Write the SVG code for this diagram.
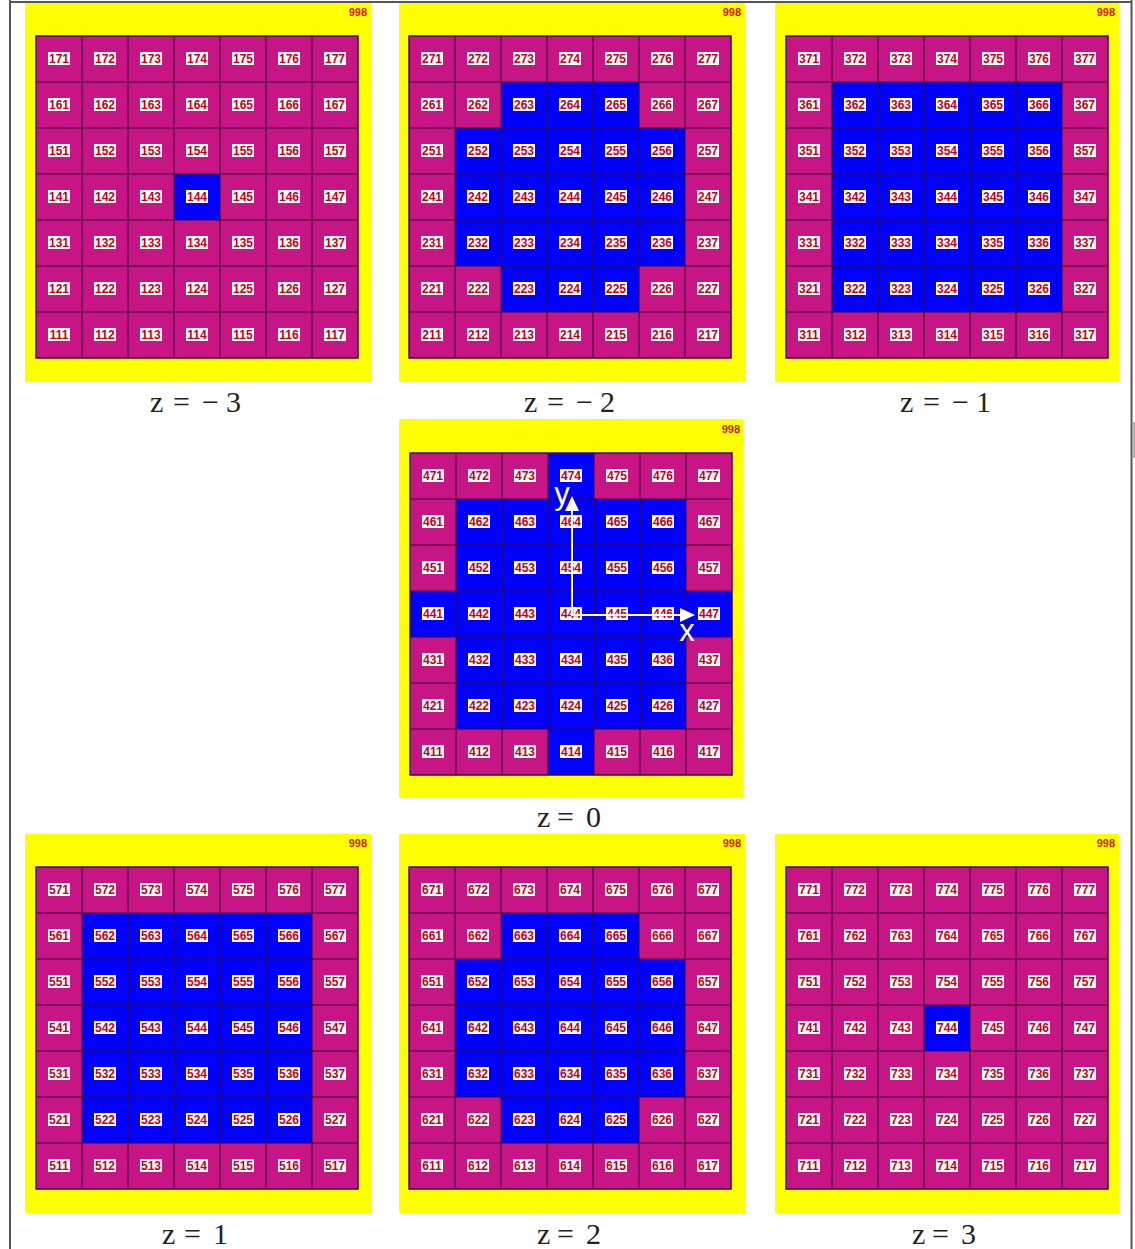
<svg xmlns="http://www.w3.org/2000/svg" xmlns:xlink="http://www.w3.org/1999/xlink" width="1135" height="1249" viewBox="0 0 1135 1249">
<style>
.bg{fill:#ffff00}
.mag{fill:#c71585}
.blue{fill:#0000ff}
.frame{fill:none;stroke:#3b0b2e;stroke-width:1.5}
.tag{font-family:"Liberation Sans",Arial,sans-serif;font-size:11px;font-weight:bold;fill:#d01818;text-anchor:end}
.lab text{font-family:"Liberation Sans",Arial,sans-serif;font-size:12px;font-weight:bold;fill:#c0001c;text-anchor:middle}
.cap{font-family:"Liberation Serif","Times New Roman",serif;font-size:30px;fill:#222}
.ax{stroke:#fff;stroke-width:2;fill:none}
.axh{fill:#fff}
.axl{font-family:"Liberation Sans",Arial,sans-serif;font-size:31px;fill:#fff;text-anchor:middle}
</style>
<defs>
<pattern id="lbl" width="46" height="46" patternUnits="userSpaceOnUse"><rect x="12" y="16" width="22" height="13" fill="#ffffff"/></pattern>
<path id="gl" d="M0 46H322M0 92H322M0 138H322M0 184H322M0 230H322M0 276H322M46 0V322M92 0V322M138 0V322M184 0V322M230 0V322M276 0V322" fill="none" stroke="#3b0b2e" stroke-width="1"/>
</defs>
<rect width="1135" height="1249" fill="#ffffff"/>
<path d="M10 0V1249M10 2H1132M1131.5 0V1249" fill="none" stroke="#555" stroke-width="2"/>
<line x1="1134" y1="422" x2="1134" y2="458" stroke="#999" stroke-width="1.5"/>

<g id="panel-z-3">
<rect class="bg" x="25" y="3" width="346" height="379"/>
<text class="tag" x="367" y="16">998</text>
<g transform="translate(36,36)">
<rect class="mag" width="322" height="322"/>
<rect class="blue" x="138" y="138" width="46" height="46"/>
<use xlink:href="#gl"/>
<rect width="322" height="322" fill="url(#lbl)"/>
<rect class="frame" width="322" height="322"/>
<g class="lab">
<text x="23" y="27">171</text><text x="69" y="27">172</text><text x="115" y="27">173</text><text x="161" y="27">174</text><text x="207" y="27">175</text><text x="253" y="27">176</text><text x="299" y="27">177</text>
<text x="23" y="73">161</text><text x="69" y="73">162</text><text x="115" y="73">163</text><text x="161" y="73">164</text><text x="207" y="73">165</text><text x="253" y="73">166</text><text x="299" y="73">167</text>
<text x="23" y="119">151</text><text x="69" y="119">152</text><text x="115" y="119">153</text><text x="161" y="119">154</text><text x="207" y="119">155</text><text x="253" y="119">156</text><text x="299" y="119">157</text>
<text x="23" y="165">141</text><text x="69" y="165">142</text><text x="115" y="165">143</text><text x="161" y="165">144</text><text x="207" y="165">145</text><text x="253" y="165">146</text><text x="299" y="165">147</text>
<text x="23" y="211">131</text><text x="69" y="211">132</text><text x="115" y="211">133</text><text x="161" y="211">134</text><text x="207" y="211">135</text><text x="253" y="211">136</text><text x="299" y="211">137</text>
<text x="23" y="257">121</text><text x="69" y="257">122</text><text x="115" y="257">123</text><text x="161" y="257">124</text><text x="207" y="257">125</text><text x="253" y="257">126</text><text x="299" y="257">127</text>
<text x="23" y="303">111</text><text x="69" y="303">112</text><text x="115" y="303">113</text><text x="161" y="303">114</text><text x="207" y="303">115</text><text x="253" y="303">116</text><text x="299" y="303">117</text>
</g>
</g>
<text class="cap" y="412"><tspan x="150">z</tspan><tspan x="173">=</tspan><tspan x="202">−</tspan><tspan x="226">3</tspan></text>
</g>

<g id="panel-z-2">
<rect class="bg" x="399" y="3" width="346" height="379"/>
<text class="tag" x="741" y="16">998</text>
<g transform="translate(409,36)">
<rect class="mag" width="322" height="322"/>
<rect class="blue" x="46" y="92" width="230" height="138"/>
<rect class="blue" x="92" y="46" width="138" height="46"/>
<rect class="blue" x="92" y="230" width="138" height="46"/>
<use xlink:href="#gl"/>
<rect width="322" height="322" fill="url(#lbl)"/>
<rect class="frame" width="322" height="322"/>
<g class="lab">
<text x="23" y="27">271</text><text x="69" y="27">272</text><text x="115" y="27">273</text><text x="161" y="27">274</text><text x="207" y="27">275</text><text x="253" y="27">276</text><text x="299" y="27">277</text>
<text x="23" y="73">261</text><text x="69" y="73">262</text><text x="115" y="73">263</text><text x="161" y="73">264</text><text x="207" y="73">265</text><text x="253" y="73">266</text><text x="299" y="73">267</text>
<text x="23" y="119">251</text><text x="69" y="119">252</text><text x="115" y="119">253</text><text x="161" y="119">254</text><text x="207" y="119">255</text><text x="253" y="119">256</text><text x="299" y="119">257</text>
<text x="23" y="165">241</text><text x="69" y="165">242</text><text x="115" y="165">243</text><text x="161" y="165">244</text><text x="207" y="165">245</text><text x="253" y="165">246</text><text x="299" y="165">247</text>
<text x="23" y="211">231</text><text x="69" y="211">232</text><text x="115" y="211">233</text><text x="161" y="211">234</text><text x="207" y="211">235</text><text x="253" y="211">236</text><text x="299" y="211">237</text>
<text x="23" y="257">221</text><text x="69" y="257">222</text><text x="115" y="257">223</text><text x="161" y="257">224</text><text x="207" y="257">225</text><text x="253" y="257">226</text><text x="299" y="257">227</text>
<text x="23" y="303">211</text><text x="69" y="303">212</text><text x="115" y="303">213</text><text x="161" y="303">214</text><text x="207" y="303">215</text><text x="253" y="303">216</text><text x="299" y="303">217</text>
</g>
</g>
<text class="cap" y="412"><tspan x="524">z</tspan><tspan x="547">=</tspan><tspan x="576">−</tspan><tspan x="600">2</tspan></text>
</g>

<g id="panel-z-1">
<rect class="bg" x="775" y="3" width="344" height="379"/>
<text class="tag" x="1115" y="16">998</text>
<g transform="translate(786,36)">
<rect class="mag" width="322" height="322"/>
<rect class="blue" x="46" y="46" width="230" height="230"/>
<use xlink:href="#gl"/>
<rect width="322" height="322" fill="url(#lbl)"/>
<rect class="frame" width="322" height="322"/>
<g class="lab">
<text x="23" y="27">371</text><text x="69" y="27">372</text><text x="115" y="27">373</text><text x="161" y="27">374</text><text x="207" y="27">375</text><text x="253" y="27">376</text><text x="299" y="27">377</text>
<text x="23" y="73">361</text><text x="69" y="73">362</text><text x="115" y="73">363</text><text x="161" y="73">364</text><text x="207" y="73">365</text><text x="253" y="73">366</text><text x="299" y="73">367</text>
<text x="23" y="119">351</text><text x="69" y="119">352</text><text x="115" y="119">353</text><text x="161" y="119">354</text><text x="207" y="119">355</text><text x="253" y="119">356</text><text x="299" y="119">357</text>
<text x="23" y="165">341</text><text x="69" y="165">342</text><text x="115" y="165">343</text><text x="161" y="165">344</text><text x="207" y="165">345</text><text x="253" y="165">346</text><text x="299" y="165">347</text>
<text x="23" y="211">331</text><text x="69" y="211">332</text><text x="115" y="211">333</text><text x="161" y="211">334</text><text x="207" y="211">335</text><text x="253" y="211">336</text><text x="299" y="211">337</text>
<text x="23" y="257">321</text><text x="69" y="257">322</text><text x="115" y="257">323</text><text x="161" y="257">324</text><text x="207" y="257">325</text><text x="253" y="257">326</text><text x="299" y="257">327</text>
<text x="23" y="303">311</text><text x="69" y="303">312</text><text x="115" y="303">313</text><text x="161" y="303">314</text><text x="207" y="303">315</text><text x="253" y="303">316</text><text x="299" y="303">317</text>
</g>
</g>
<text class="cap" y="412"><tspan x="900">z</tspan><tspan x="923">=</tspan><tspan x="952">−</tspan><tspan x="976">1</tspan></text>
</g>

<g id="panel-z0">
<rect class="bg" x="399" y="419" width="344" height="379"/>
<text class="tag" x="740" y="433">998</text>
<g transform="translate(410,453)">
<rect class="mag" width="322" height="322"/>
<rect class="blue" x="46" y="46" width="230" height="230"/>
<rect class="blue" x="0" y="138" width="322" height="46"/>
<rect class="blue" x="138" y="0" width="46" height="322"/>
<use xlink:href="#gl"/>
<rect width="322" height="322" fill="url(#lbl)"/>
<rect class="frame" width="322" height="322"/>
<g class="lab">
<text x="23" y="27">471</text><text x="69" y="27">472</text><text x="115" y="27">473</text><text x="161" y="27">474</text><text x="207" y="27">475</text><text x="253" y="27">476</text><text x="299" y="27">477</text>
<text x="23" y="73">461</text><text x="69" y="73">462</text><text x="115" y="73">463</text><text x="161" y="73">464</text><text x="207" y="73">465</text><text x="253" y="73">466</text><text x="299" y="73">467</text>
<text x="23" y="119">451</text><text x="69" y="119">452</text><text x="115" y="119">453</text><text x="161" y="119">454</text><text x="207" y="119">455</text><text x="253" y="119">456</text><text x="299" y="119">457</text>
<text x="23" y="165">441</text><text x="69" y="165">442</text><text x="115" y="165">443</text><text x="161" y="165">444</text><text x="207" y="165">445</text><text x="253" y="165">446</text><text x="299" y="165">447</text>
<text x="23" y="211">431</text><text x="69" y="211">432</text><text x="115" y="211">433</text><text x="161" y="211">434</text><text x="207" y="211">435</text><text x="253" y="211">436</text><text x="299" y="211">437</text>
<text x="23" y="257">421</text><text x="69" y="257">422</text><text x="115" y="257">423</text><text x="161" y="257">424</text><text x="207" y="257">425</text><text x="253" y="257">426</text><text x="299" y="257">427</text>
<text x="23" y="303">411</text><text x="69" y="303">412</text><text x="115" y="303">413</text><text x="161" y="303">414</text><text x="207" y="303">415</text><text x="253" y="303">416</text><text x="299" y="303">417</text>
</g>
</g>
<text class="cap" y="827"><tspan x="537">z</tspan><tspan x="557">=</tspan><tspan x="586">0</tspan></text>
</g>

<g id="axes">
<path class="ax" d="M572 615V508M571 615H682"/>
<polygon class="axh" points="572,496 565,511 579,511"/>
<polygon class="axh" points="695,615 680,608 680,622"/>
<text class="axl" x="562" y="504">y</text>
<text class="axl" x="687" y="641">x</text>
</g>

<g id="panel-z1">
<rect class="bg" x="25" y="834" width="346" height="379"/>
<text class="tag" x="367" y="847">998</text>
<g transform="translate(36,867)">
<rect class="mag" width="322" height="322"/>
<rect class="blue" x="46" y="46" width="230" height="230"/>
<use xlink:href="#gl"/>
<rect width="322" height="322" fill="url(#lbl)"/>
<rect class="frame" width="322" height="322"/>
<g class="lab">
<text x="23" y="27">571</text><text x="69" y="27">572</text><text x="115" y="27">573</text><text x="161" y="27">574</text><text x="207" y="27">575</text><text x="253" y="27">576</text><text x="299" y="27">577</text>
<text x="23" y="73">561</text><text x="69" y="73">562</text><text x="115" y="73">563</text><text x="161" y="73">564</text><text x="207" y="73">565</text><text x="253" y="73">566</text><text x="299" y="73">567</text>
<text x="23" y="119">551</text><text x="69" y="119">552</text><text x="115" y="119">553</text><text x="161" y="119">554</text><text x="207" y="119">555</text><text x="253" y="119">556</text><text x="299" y="119">557</text>
<text x="23" y="165">541</text><text x="69" y="165">542</text><text x="115" y="165">543</text><text x="161" y="165">544</text><text x="207" y="165">545</text><text x="253" y="165">546</text><text x="299" y="165">547</text>
<text x="23" y="211">531</text><text x="69" y="211">532</text><text x="115" y="211">533</text><text x="161" y="211">534</text><text x="207" y="211">535</text><text x="253" y="211">536</text><text x="299" y="211">537</text>
<text x="23" y="257">521</text><text x="69" y="257">522</text><text x="115" y="257">523</text><text x="161" y="257">524</text><text x="207" y="257">525</text><text x="253" y="257">526</text><text x="299" y="257">527</text>
<text x="23" y="303">511</text><text x="69" y="303">512</text><text x="115" y="303">513</text><text x="161" y="303">514</text><text x="207" y="303">515</text><text x="253" y="303">516</text><text x="299" y="303">517</text>
</g>
</g>
<text class="cap" y="1244"><tspan x="162">z</tspan><tspan x="184">=</tspan><tspan x="213">1</tspan></text>
</g>

<g id="panel-z2">
<rect class="bg" x="399" y="834" width="346" height="379"/>
<text class="tag" x="741" y="847">998</text>
<g transform="translate(409,867)">
<rect class="mag" width="322" height="322"/>
<rect class="blue" x="46" y="92" width="230" height="138"/>
<rect class="blue" x="92" y="46" width="138" height="46"/>
<rect class="blue" x="92" y="230" width="138" height="46"/>
<use xlink:href="#gl"/>
<rect width="322" height="322" fill="url(#lbl)"/>
<rect class="frame" width="322" height="322"/>
<g class="lab">
<text x="23" y="27">671</text><text x="69" y="27">672</text><text x="115" y="27">673</text><text x="161" y="27">674</text><text x="207" y="27">675</text><text x="253" y="27">676</text><text x="299" y="27">677</text>
<text x="23" y="73">661</text><text x="69" y="73">662</text><text x="115" y="73">663</text><text x="161" y="73">664</text><text x="207" y="73">665</text><text x="253" y="73">666</text><text x="299" y="73">667</text>
<text x="23" y="119">651</text><text x="69" y="119">652</text><text x="115" y="119">653</text><text x="161" y="119">654</text><text x="207" y="119">655</text><text x="253" y="119">656</text><text x="299" y="119">657</text>
<text x="23" y="165">641</text><text x="69" y="165">642</text><text x="115" y="165">643</text><text x="161" y="165">644</text><text x="207" y="165">645</text><text x="253" y="165">646</text><text x="299" y="165">647</text>
<text x="23" y="211">631</text><text x="69" y="211">632</text><text x="115" y="211">633</text><text x="161" y="211">634</text><text x="207" y="211">635</text><text x="253" y="211">636</text><text x="299" y="211">637</text>
<text x="23" y="257">621</text><text x="69" y="257">622</text><text x="115" y="257">623</text><text x="161" y="257">624</text><text x="207" y="257">625</text><text x="253" y="257">626</text><text x="299" y="257">627</text>
<text x="23" y="303">611</text><text x="69" y="303">612</text><text x="115" y="303">613</text><text x="161" y="303">614</text><text x="207" y="303">615</text><text x="253" y="303">616</text><text x="299" y="303">617</text>
</g>
</g>
<text class="cap" y="1244"><tspan x="537">z</tspan><tspan x="557">=</tspan><tspan x="586">2</tspan></text>
</g>

<g id="panel-z3">
<rect class="bg" x="775" y="834" width="344" height="379"/>
<text class="tag" x="1115" y="847">998</text>
<g transform="translate(786,867)">
<rect class="mag" width="322" height="322"/>
<rect class="blue" x="138" y="138" width="46" height="46"/>
<use xlink:href="#gl"/>
<rect width="322" height="322" fill="url(#lbl)"/>
<rect class="frame" width="322" height="322"/>
<g class="lab">
<text x="23" y="27">771</text><text x="69" y="27">772</text><text x="115" y="27">773</text><text x="161" y="27">774</text><text x="207" y="27">775</text><text x="253" y="27">776</text><text x="299" y="27">777</text>
<text x="23" y="73">761</text><text x="69" y="73">762</text><text x="115" y="73">763</text><text x="161" y="73">764</text><text x="207" y="73">765</text><text x="253" y="73">766</text><text x="299" y="73">767</text>
<text x="23" y="119">751</text><text x="69" y="119">752</text><text x="115" y="119">753</text><text x="161" y="119">754</text><text x="207" y="119">755</text><text x="253" y="119">756</text><text x="299" y="119">757</text>
<text x="23" y="165">741</text><text x="69" y="165">742</text><text x="115" y="165">743</text><text x="161" y="165">744</text><text x="207" y="165">745</text><text x="253" y="165">746</text><text x="299" y="165">747</text>
<text x="23" y="211">731</text><text x="69" y="211">732</text><text x="115" y="211">733</text><text x="161" y="211">734</text><text x="207" y="211">735</text><text x="253" y="211">736</text><text x="299" y="211">737</text>
<text x="23" y="257">721</text><text x="69" y="257">722</text><text x="115" y="257">723</text><text x="161" y="257">724</text><text x="207" y="257">725</text><text x="253" y="257">726</text><text x="299" y="257">727</text>
<text x="23" y="303">711</text><text x="69" y="303">712</text><text x="115" y="303">713</text><text x="161" y="303">714</text><text x="207" y="303">715</text><text x="253" y="303">716</text><text x="299" y="303">717</text>
</g>
</g>
<text class="cap" y="1244"><tspan x="912">z</tspan><tspan x="932">=</tspan><tspan x="961">3</tspan></text>
</g>
</svg>
